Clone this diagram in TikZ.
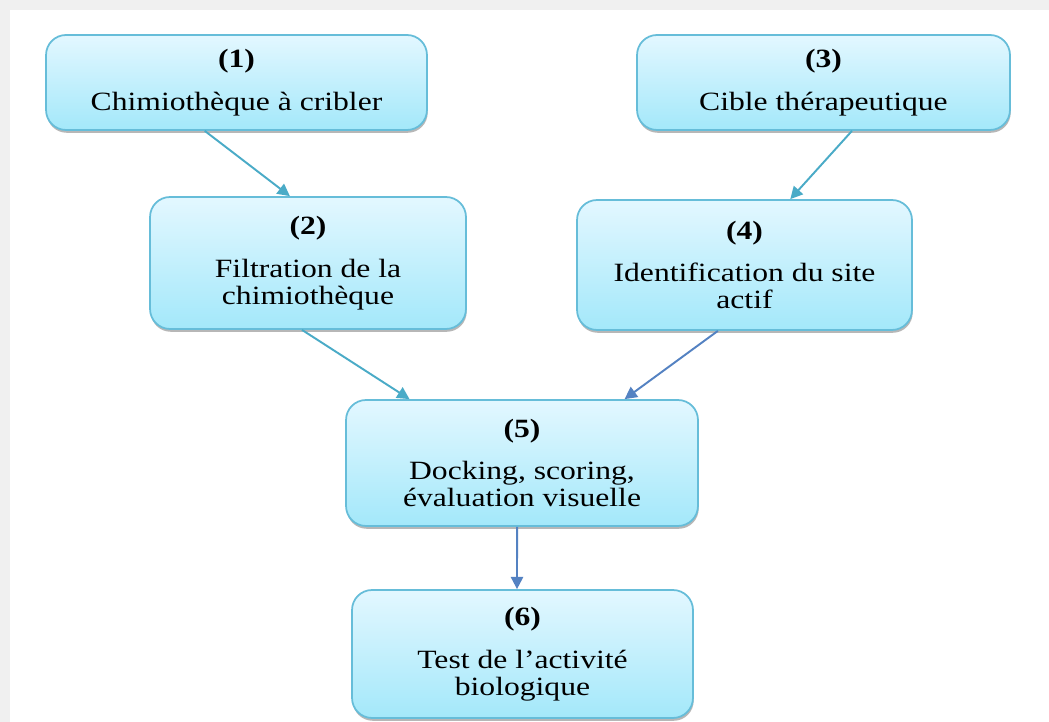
\documentclass[tikz,border=0pt]{standalone}
\usepackage{fontspec}
\setmainfont[FakeStretch=1.2]{Liberation Serif}
\usetikzlibrary{arrows.meta,calc,shadows}
\definecolor{BoxTop}{rgb}{0.89,0.97,1.0}
\definecolor{BoxBot}{rgb}{0.64,0.91,0.98}
\definecolor{BoxLine}{rgb}{0.40,0.74,0.85}
\definecolor{ArrTeal}{rgb}{0.29,0.67,0.78}
\definecolor{ArrBlue}{rgb}{0.33,0.51,0.76}
\definecolor{FrameClr}{rgb}{0.94,0.94,0.94}

\begin{document}
\begin{tikzpicture}[x=0.02cm,y=-0.02cm,
  box/.style={draw=BoxLine,line width=1pt,rounded corners=0.4cm,
    top color=BoxTop,bottom color=BoxBot,align=center,inner sep=0pt,
    font=\fontsize{15}{15.4}\selectfont,text=black,
    drop shadow={shadow xshift=0.4pt,shadow yshift=-1.6pt,fill=gray!70,opacity=0.8}},
  arr/.style={line width=1.1pt,-{Triangle[length=7pt,width=7pt]}}]
\useasboundingbox (0,0) rectangle (1049,722);
\fill[FrameClr] (0,0) rectangle (1049,722);
\fill[white] (10,10) rectangle (1049,722);

\node[box,minimum width=7.62cm,minimum height=1.9cm] (chim) at (236.5,82.5)
  {\textbf{(1)}\\[9pt]Chimiothèque à cribler};
\node[box,minimum width=7.46cm,minimum height=1.9cm] (cible) at (823.5,82.5)
  {\textbf{(3)}\\[9pt]Cible thérapeutique};
\node[box,minimum width=6.32cm,minimum height=2.64cm] (filt) at (308,263)
  {\textbf{(2)}\\[9pt]Filtration de la\\chimiothèque};
\node[box,minimum width=6.7cm,minimum height=2.6cm] (site) at (744.5,265)
  {\textbf{(4)}\\[9pt]Identification du site\\actif};
\node[box,minimum width=7.04cm,minimum height=2.52cm] (dock) at (522,463)
  {\textbf{(5)}\\[9pt]Docking, scoring,\\évaluation visuelle};
\node[box,minimum width=6.82cm,minimum height=2.56cm] (test) at (522.5,654)
  {\textbf{(6)}\\[9pt]Test de l'activité\\biologique};

\draw[arr,ArrTeal] ($(chim.south west)!0.417!(chim.south east)$) -- ($(filt.north west)!0.443!(filt.north east)$);
\draw[arr,ArrTeal] ($(cible.south west)!0.576!(cible.south east)$) -- ($(site.north west)!0.636!(site.north east)$);
\draw[arr,ArrTeal] ($(filt.south west)!0.481!(filt.south east)$) -- ($(dock.north west)!0.182!(dock.north east)$);
\draw[arr,ArrBlue] ($(site.south west)!0.421!(site.south east)$) -- ($(dock.north west)!0.79!(dock.north east)$);
\draw[arr,ArrBlue] ($(dock.south west)!0.486!(dock.south east)$) -- ($(test.north west)!0.484!(test.north east)$);

\end{tikzpicture}
\end{document}
